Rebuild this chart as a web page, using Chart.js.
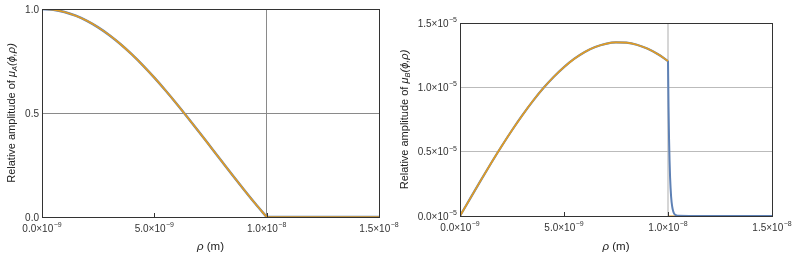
<!DOCTYPE html>
<html>
<head>
<meta charset="utf-8">
<script src="https://cdn.jsdelivr.net/npm/chart.js@4"></script>
<style>
  body { margin: 0; background: #fff; }
  .box { position: absolute; top: 0; height: 257px; }
  #boxA { left: 0; width: 412px; }
  #boxB { left: 390px; width: 404px; }
</style>
</head>
<body>
<div class="box" id="boxA"><canvas id="chartA" width="412" height="257"></canvas></div>
<div class="box" id="boxB"><canvas id="chartB" width="404" height="257"></canvas></div>
<script>
// rho in metres
var rhoA = [0, 0.5e-9, 1e-9, 1.5e-9, 2e-9, 2.5e-9, 3e-9, 3.5e-9, 4e-9, 4.5e-9, 5e-9,
  5.5e-9, 6e-9, 6.5e-9, 7e-9, 7.5e-9, 8e-9, 8.5e-9, 9e-9, 9.5e-9, 1e-8];
var muA = [1, 0.9964, 0.9856, 0.9677, 0.943, 0.9117, 0.8741, 0.8306, 0.7816, 0.728, 0.6699,
  0.6081, 0.5435, 0.4762, 0.4075, 0.3378, 0.2679, 0.1984, 0.1302, 0.0637, 0];
var rhoOutA = [1e-8, 1.5e-8];
var muOutA = [0, 0];

var rhoB = [0, 0.5e-9, 1e-9, 1.5e-9, 2e-9, 2.5e-9, 3e-9, 3.5e-9, 4e-9, 4.5e-9, 5e-9,
  5.5e-9, 6e-9, 6.5e-9, 7e-9, 7.5e-9, 8e-9, 8.5e-9, 9e-9, 9.5e-9, 1e-8];
var muB = [0, 1.392e-6, 2.77e-6, 4.118e-6, 5.42e-6, 6.665e-6, 7.839e-6, 8.93e-6, 9.927e-6, 10.804e-6, 11.574e-6,
  12.226e-6, 12.751e-6, 13.134e-6, 13.382e-6, 13.493e-6, 13.47e-6, 13.312e-6, 13.015e-6, 12.588e-6, 12.043e-6];
// smooth version decays just past the boundary
var rhoTail = [1e-8, 1.0025e-8, 1.005e-8, 1.0075e-8, 1.01e-8, 1.015e-8, 1.02e-8, 1.025e-8, 1.03e-8, 1.04e-8, 1.05e-8, 1.1e-8, 1.5e-8];
var muTail = [12.043e-6, 8.5e-6, 6.0e-6, 4.3e-6, 3.0e-6, 1.5e-6, 0.75e-6, 0.37e-6, 0.18e-6, 0.05e-6, 0.01e-6, 0, 0];
// truncated version is zero outside
var rhoOutB = [1.0001e-8, 1.5e-8];
var muOutB = [0, 0];

var xTicks = [0, 5e-9, 1e-8, 1.5e-8];
var xTickLabels = [['0.0×10', '−9'], ['5.0×10', '−9'], ['1.0×10', '−8'], ['1.5×10', '−8']];
var yTicksA = [0, 0.5, 1];
var yTickLabelsA = [['0.0', ''], ['0.5', ''], ['1.0', '']];
var yTicksB = [0, 0.5e-5, 1e-5, 1.5e-5];
var yTickLabelsB = [['0.0×10', '−5'], ['0.5×10', '−5'], ['1.0×10', '−5'], ['1.5×10', '−5']];

var BLUE = '#5e81b5', ORANGE = '#e19c24';
var FONT = 'Liberation Sans, Arial, sans-serif';

function pts(xs, ys) {
  return xs.map(function(x, i) { return { x: x, y: ys[i] }; });
}

function near(a, b, tol) { return Math.abs(a - b) < tol; }

// label with raised exponent; align: 'center' or 'right'
function drawLabel(ctx, lab, x, y, align) {
  ctx.font = '10px ' + FONT;
  var w1 = ctx.measureText(lab[0]).width;
  ctx.font = '7px ' + FONT;
  var w2 = lab[1] ? ctx.measureText(lab[1]).width + 0.5 : 0;
  var x0 = align === 'center' ? x - (w1 + w2) / 2 : x - w1 - w2;
  ctx.font = '10px ' + FONT;
  ctx.fillText(lab[0], x0, y);
  if (lab[1]) {
    ctx.font = '7px ' + FONT;
    ctx.fillText(lab[1], x0 + w1 + 0.5, y - 4);
  }
}

// frame, tick labels, inward tick marks and axis titles with subscript
function framePlugin(sub, yLabels, yTicks, titleX) {
  return {
    id: 'frame' + sub,
    afterDraw: function(chart) {
      var ctx = chart.ctx, a = chart.chartArea;
      var xs = chart.scales.x, ys = chart.scales.y;
      ctx.save();
      ctx.strokeStyle = '#333';
      ctx.lineWidth = 1;
      ctx.strokeRect(Math.round(a.left) + 0.5, Math.round(a.top) + 0.5,
        Math.round(a.right - a.left), Math.round(a.bottom - a.top));
      ctx.beginPath();
      xTicks.slice(1, -1).forEach(function(v) {
        var px = Math.round(xs.getPixelForValue(v)) + 0.5;
        ctx.moveTo(px, a.bottom); ctx.lineTo(px, a.bottom - 4);
      });
      ctx.stroke();
      ctx.fillStyle = '#333';
      ctx.textBaseline = 'middle';
      xTicks.forEach(function(v, i) {
        drawLabel(ctx, xTickLabels[i], xs.getPixelForValue(v), a.bottom + 12, 'center');
      });
      yTicks.forEach(function(v, i) {
        drawLabel(ctx, yLabels[i], a.left - 3, ys.getPixelForValue(v) + 1, 'right');
      });
      ctx.fillStyle = '#222';
      // x title
      ctx.font = 'italic 11.5px ' + FONT;
      var xw1 = ctx.measureText('ρ').width;
      ctx.font = '11.5px ' + FONT;
      var xw2 = ctx.measureText(' (m)').width;
      var cx = (a.left + a.right) / 2 - (xw1 + xw2) / 2;
      ctx.font = 'italic 11.5px ' + FONT;
      ctx.fillText('ρ', cx, 247);
      ctx.font = '11.5px ' + FONT;
      ctx.fillText(' (m)', cx + xw1, 247);
      // y title rotated
      var yc = (a.top + a.bottom) / 2;
      var parts = [
        ['11px ', 'Relative amplitude of ', 0],
        ['italic 11px ', 'μ', 0],
        ['italic 7.5px ', sub, 2.5],
        ['italic 11px ', '(ϕ,ρ)', 0]
      ];
      var tot = 0;
      parts.forEach(function(p) { ctx.font = p[0] + FONT; p.push(ctx.measureText(p[1]).width); tot += p[3]; });
      ctx.translate(titleX, yc);
      ctx.rotate(-Math.PI / 2);
      var x0 = -tot / 2;
      parts.forEach(function(p) {
        ctx.font = p[0] + FONT;
        ctx.fillText(p[1], x0, p[2]);
        x0 += p[3];
      });
      ctx.restore();
    }
  };
}

function makeOpts(cfg) {
  return {
    responsive: false,
    animation: false,
    events: [],
    layout: { padding: cfg.pad },
    plugins: { legend: { display: false }, tooltip: { enabled: false } },
    elements: { point: { radius: 0 }, line: { tension: 0.4, cubicInterpolationMode: 'monotone' } },
    scales: {
      x: {
        type: 'linear', min: 0, max: 1.5e-8,
        afterBuildTicks: function(s) { s.ticks = xTicks.map(function(v) { return { value: v }; }); },
        afterFit: function(s) { s.height = cfg.xh; },
        border: { display: false },
        grid: {
          drawTicks: false,
          color: function(c) { return near(c.tick.value, 1e-8, 1e-12) ? cfg.vgrid : 'rgba(0,0,0,0)'; },
          lineWidth: cfg.vgridW
        },
        ticks: { display: false }
      },
      y: {
        type: 'linear', min: cfg.yTicks[0], max: cfg.yTicks[cfg.yTicks.length - 1],
        afterBuildTicks: function(s) { s.ticks = cfg.yTicks.map(function(v) { return { value: v }; }); },
        afterFit: function(s) { s.width = cfg.yw; },
        border: { display: false },
        grid: {
          drawTicks: false,
          color: function(c) {
            var v = c.tick.value, lo = cfg.yTicks[0], hi = cfg.yTicks[cfg.yTicks.length - 1];
            return (near(v, lo, hi * 1e-4) || near(v, hi, hi * 1e-4)) ? 'rgba(0,0,0,0)' : cfg.hgrid;
          }
        },
        ticks: { display: false }
      }
    }
  };
}

var chartA = new Chart(document.getElementById('chartA'), {
  type: 'line',
  data: {
    datasets: [
      { data: pts(rhoA, muA), borderColor: BLUE, borderWidth: 2.4, order: 2 },
      { data: pts(rhoOutA, muOutA), borderColor: BLUE, borderWidth: 2.4, order: 2 },
      { data: pts(rhoA, muA), borderColor: ORANGE, borderWidth: 1.7, order: 1 },
      { data: pts(rhoOutA, muOutA), borderColor: ORANGE, borderWidth: 1.7, order: 1 }
    ]
  },
  options: makeOpts({ pad: { left: 0, top: 9, right: 33, bottom: 0 }, xh: 40, yw: 42,
    yTicks: yTicksA, vgrid: '#8a8a8a', vgridW: 1, hgrid: '#8a8a8a' }),
  plugins: [framePlugin('A', yTickLabelsA, yTicksA, 12)]
});

var chartB = new Chart(document.getElementById('chartB'), {
  type: 'line',
  data: {
    datasets: [
      { data: pts(rhoB, muB), borderColor: BLUE, borderWidth: 2.2, order: 2 },
      { data: pts(rhoTail, muTail), borderColor: BLUE, borderWidth: 2, tension: 0, order: 2 },
      { data: pts(rhoB, muB), borderColor: ORANGE, borderWidth: 1.7, order: 1 },
      { data: pts(rhoOutB, muOutB), borderColor: ORANGE, borderWidth: 1.2, order: 3 }
    ]
  },
  options: makeOpts({ pad: { left: 0, top: 23, right: 22, bottom: 0 }, xh: 41, yw: 70,
    yTicks: yTicksB, vgrid: '#d6d6d6', vgridW: 2, hgrid: '#bbbbbb' }),
  plugins: [framePlugin('B', yTickLabelsB, yTicksB, 15)]
});
</script>
</body>
</html>
